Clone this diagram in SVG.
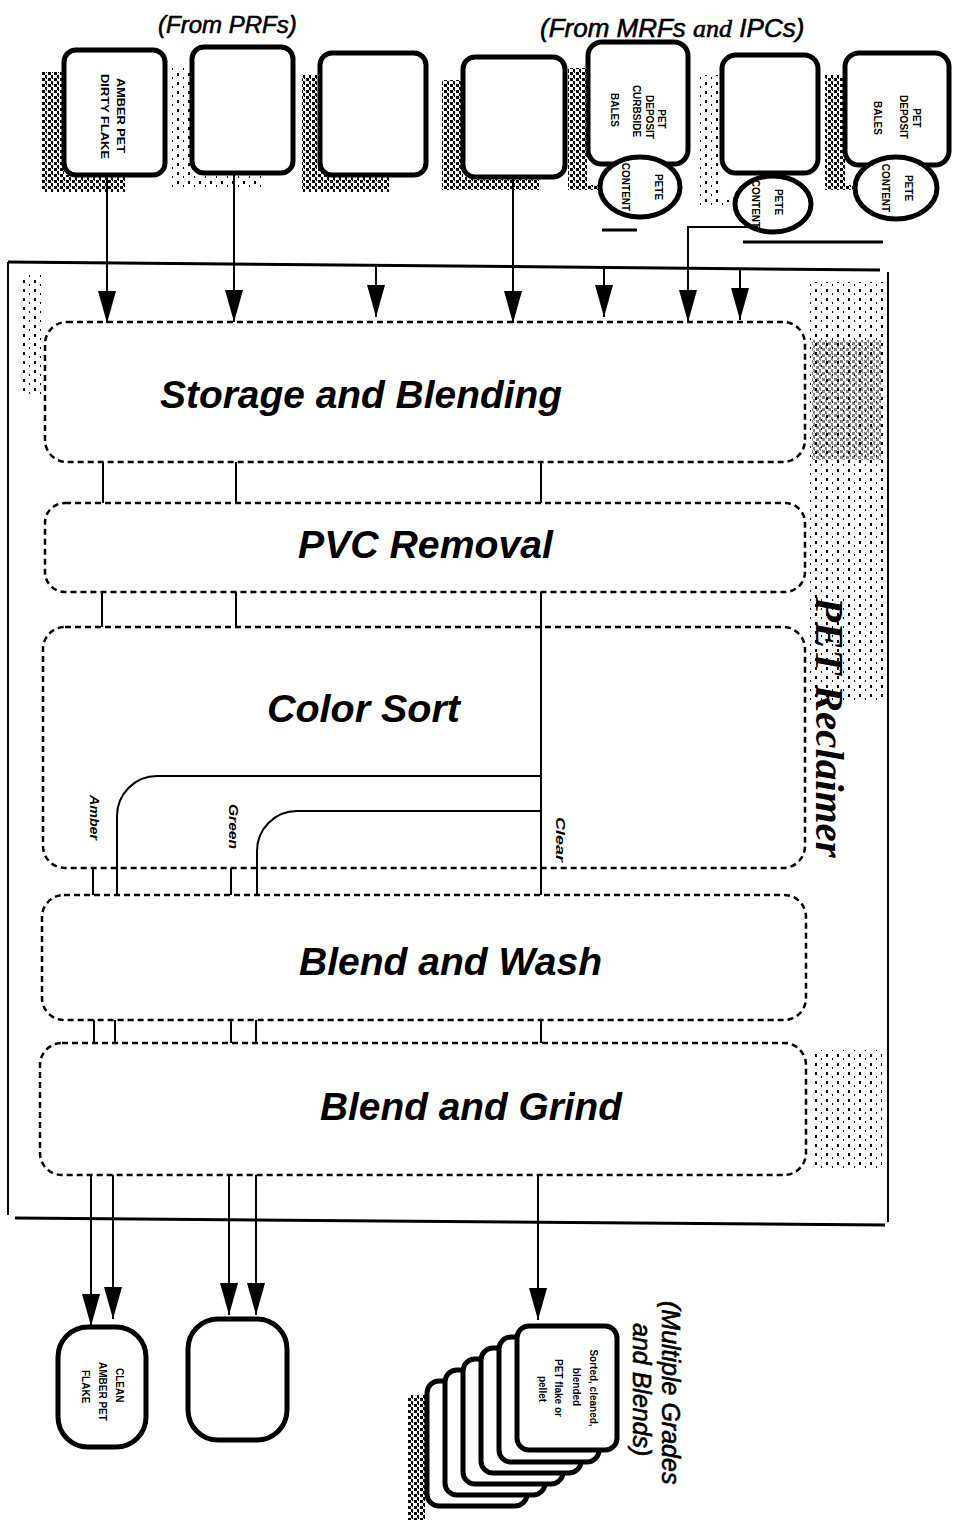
<svg xmlns="http://www.w3.org/2000/svg" width="954" height="1531" viewBox="0 0 954 1531">
<style>
.lbl{font-family:"Liberation Sans",Arial,sans-serif;font-weight:bold;font-style:italic;font-size:39px;fill:#000}
.top{font-family:"Liberation Sans",Arial,sans-serif;font-style:italic;fill:#000;stroke:#000;stroke-width:0.6}
.sm{font-family:"Liberation Sans",Arial,sans-serif;font-weight:bold;font-size:10px;fill:#000}
.col{font-family:"Liberation Sans",Arial,sans-serif;font-weight:bold;font-style:italic;font-size:13px;fill:#000}
.bin{fill:#fff;stroke:#000;stroke-width:5}
.proc{fill:none;stroke:#000;stroke-width:2.5;stroke-dasharray:6 4}
.ln{fill:none;stroke:#000;stroke-width:2}
.frame{fill:none;stroke:#000;stroke-width:3}
.shadow{fill:url(#sp2)}
.noise{fill:url(#sp)}
</style>
<defs>
<pattern id="sp" width="11" height="9" patternUnits="userSpaceOnUse">
<rect x="1" y="1" width="2" height="3" fill="#000"/>
<rect x="7" y="5" width="1" height="2" fill="#000"/>
</pattern>
<pattern id="sp2" width="6" height="6" patternUnits="userSpaceOnUse">
<rect x="0" y="0" width="3" height="3" fill="#000"/>
<rect x="3" y="3" width="2" height="3" fill="#000"/>
<rect x="4" y="0" width="1" height="1" fill="#000"/>
</pattern>
<marker id="ah" viewBox="0 0 32 18" refX="32" refY="9" markerWidth="32" markerHeight="18" markerUnits="userSpaceOnUse" orient="auto">
<path d="M0,0 L32,9 L0,18 z" fill="#000"/>
</marker>
</defs>

<rect width="954" height="1531" fill="#fff"/>

<!-- texture / shadows -->
<g id="texture">
<path class="shadow" d="M42,72 H64 V175 H125 V192 H42 Z"/>
<path class="noise" d="M170,68 H192 V173 H265 V190 H170 Z"/>
<path class="shadow" d="M302,75 H322 V175 H390 V192 H302 Z"/>
<path class="shadow" d="M442,80 H463 V177 H540 V190 H442 Z"/>
<path class="shadow" d="M568,68 H588 V185 H600 V190 H568 Z"/>
<path class="noise" d="M700,75 H722 V200 H735 V205 H700 Z"/>
<path class="shadow" d="M825,75 H845 V185 H855 V190 H825 Z"/>
<rect class="noise" x="808" y="282" width="76" height="420"/>
<rect class="shadow" x="812" y="340" width="70" height="120" opacity="0.5"/>
<rect class="noise" x="812" y="1050" width="70" height="120"/>
<rect class="noise" x="20" y="275" width="24" height="120"/>
<rect class="shadow" x="408" y="1395" width="18" height="125"/>
</g>

<!-- top labels -->
<text class="top" x="158" y="33" font-size="24">(From PRFs)</text>
<text class="top" x="540" y="37" font-size="26">(From MRFs <tspan font-family="'Liberation Serif','Times New Roman',serif">and</tspan> IPCs)</text>

<!-- source bins -->
<g id="bin1">
<rect class="bin" x="64" y="50" width="101" height="125" rx="12"/>
<text class="sm" transform="translate(117,78) rotate(90)" textLength="75" lengthAdjust="spacingAndGlyphs">AMBER PET</text>
<text class="sm" transform="translate(101,74) rotate(90)" textLength="85" lengthAdjust="spacingAndGlyphs">DIRTY FLAKE</text>
</g>
<g id="bin2"><rect class="bin" x="192" y="47" width="101" height="126" rx="12"/></g>
<g id="bin3"><rect class="bin" x="320" y="53" width="106" height="122" rx="12"/></g>
<g id="bin4"><rect class="bin" x="463" y="57" width="102" height="120" rx="12"/></g>
<g id="bin5">
<rect class="bin" x="588" y="42" width="100" height="122" rx="14"/>
<ellipse class="bin" cx="640" cy="187" rx="40" ry="30"/>
<text class="sm" text-anchor="middle" transform="translate(658,119) rotate(90)">PET</text>
<text class="sm" text-anchor="middle" transform="translate(646,117) rotate(90)">DEPOSIT</text>
<text class="sm" text-anchor="middle" transform="translate(633,111) rotate(90)">CURBSIDE</text>
<text class="sm" text-anchor="middle" transform="translate(611,110) rotate(90)" font-size="13">BALES</text>
<text class="sm" text-anchor="middle" transform="translate(655,187) rotate(90)">PETE</text>
<text class="sm" text-anchor="middle" transform="translate(622,187) rotate(90)" font-size="8">CONTENT</text>
</g>
<g id="bin6">
<rect class="bin" x="722" y="55" width="96" height="118" rx="14"/>
<ellipse class="bin" cx="773" cy="204" rx="38" ry="28"/>
<text class="sm" text-anchor="middle" transform="translate(775,202) rotate(90)">PETE</text>
<text class="sm" text-anchor="middle" transform="translate(752,204) rotate(90)" font-size="8">CONTENT</text>
</g>
<g id="bin7">
<rect class="bin" x="845" y="53" width="104" height="112" rx="14"/>
<ellipse class="bin" cx="896" cy="188" rx="41" ry="31"/>
<text class="sm" text-anchor="middle" transform="translate(913,118) rotate(90)">PET</text>
<text class="sm" text-anchor="middle" transform="translate(900,117) rotate(90)">DEPOSIT</text>
<text class="sm" text-anchor="middle" transform="translate(874,118) rotate(90)" font-size="12">BALES</text>
<text class="sm" text-anchor="middle" transform="translate(905,188) rotate(90)">PETE</text>
<text class="sm" text-anchor="middle" transform="translate(882,188) rotate(90)" font-size="8">CONTENT</text>
</g>

<!-- reclaimer frame -->
<g id="reclaimer">
<polyline class="frame" points="8,262 880,270"/>
<line class="ln" x1="8" y1="262" x2="8" y2="1215"/>
<line class="ln" x1="888" y1="272" x2="888" y2="1222"/>
<polyline class="frame" points="15,1218 885,1225" stroke-width="4"/>
<text transform="translate(816,597) rotate(90)" font-family="'Liberation Serif','Times New Roman',serif" font-weight="bold" font-style="italic" font-size="41">PET Reclaimer</text>
</g>

<!-- process stages -->
<g id="storage"><rect class="proc" x="45" y="322" width="760" height="140" rx="22"/>
<text class="lbl" x="160" y="408" textLength="402" lengthAdjust="spacingAndGlyphs">Storage and Blending</text></g>
<g id="pvc"><rect class="proc" x="45" y="503" width="760" height="89" rx="20"/>
<text class="lbl" x="298" y="558" textLength="255" lengthAdjust="spacingAndGlyphs">PVC Removal</text></g>
<g id="colorsort"><rect class="proc" x="43" y="627" width="762" height="241" rx="22"/>
<text class="lbl" x="267" y="722" textLength="193" lengthAdjust="spacingAndGlyphs">Color Sort</text>
<text class="col" transform="translate(90,795) rotate(90)" textLength="45" lengthAdjust="spacingAndGlyphs">Amber</text>
<text class="col" transform="translate(229,804) rotate(90)" textLength="45" lengthAdjust="spacingAndGlyphs">Green</text>
<text class="col" transform="translate(556,817) rotate(90)" textLength="45" lengthAdjust="spacingAndGlyphs">Clear</text></g>
<g id="wash"><rect class="proc" x="42" y="895" width="764" height="125" rx="22"/>
<text class="lbl" x="299" y="975" textLength="303" lengthAdjust="spacingAndGlyphs">Blend and Wash</text></g>
<g id="grind"><rect class="proc" x="40" y="1043" width="766" height="132" rx="22"/>
<text class="lbl" x="320" y="1120" textLength="302" lengthAdjust="spacingAndGlyphs">Blend and Grind</text></g>

<!-- outputs -->
<g id="out-amber">
<rect class="bin" x="58" y="1327" width="88" height="120" rx="30"/>
<text class="sm" transform="translate(116,1368) rotate(90)">CLEAN</text>
<text class="sm" transform="translate(99,1362) rotate(90)">AMBER PET</text>
<text class="sm" transform="translate(82,1370) rotate(90)">FLAKE</text>
</g>
<g id="out-green"><rect class="bin" x="188" y="1319" width="99" height="121" rx="30"/></g>
<g id="out-stack">
<rect class="bin" x="427" y="1381" width="100" height="125" rx="12" stroke-width="4"/>
<rect class="bin" x="445" y="1370" width="100" height="125" rx="12" stroke-width="4"/>
<rect class="bin" x="463" y="1359" width="100" height="125" rx="12" stroke-width="4"/>
<rect class="bin" x="481" y="1348" width="100" height="125" rx="12" stroke-width="4"/>
<rect class="bin" x="499" y="1337" width="100" height="125" rx="12" stroke-width="4"/>
<rect class="bin" x="517" y="1326" width="100" height="124" rx="12" stroke-width="4"/>
<text class="sm" font-size="11" text-anchor="middle" transform="translate(590,1388) rotate(90)">Sorted, cleaned,</text>
<text class="sm" font-size="11" text-anchor="middle" transform="translate(573,1387) rotate(90)">blended</text>
<text class="sm" font-size="11" text-anchor="middle" transform="translate(555,1388) rotate(90)">PET flake or</text>
<text class="sm" font-size="11" text-anchor="middle" transform="translate(539,1389) rotate(90)">pellet</text>
</g>
<text class="top" font-size="25" transform="translate(662,1301) rotate(90)">(Multiple Grades</text>
<text class="top" font-size="25" transform="translate(633,1323) rotate(90)">and Blends)</text>

<!-- connectors -->
<g id="connectors">
<line class="ln" x1="107" y1="175" x2="107" y2="323" marker-end="url(#ah)"/>
<line class="ln" x1="234" y1="173" x2="234" y2="322" marker-end="url(#ah)"/>
<line class="ln" x1="376" y1="264" x2="376" y2="317" marker-end="url(#ah)"/>
<line class="ln" x1="513" y1="177" x2="513" y2="323" marker-end="url(#ah)"/>
<line class="ln" x1="604" y1="266" x2="604" y2="317" marker-end="url(#ah)"/>
<polyline class="ln" points="758,227 688,227 688,322" marker-end="url(#ah)"/>
<line class="ln" x1="740" y1="268" x2="740" y2="320" marker-end="url(#ah)"/>
<line class="frame" x1="602" y1="230" x2="637" y2="230"/>
<line class="frame" x1="743" y1="242" x2="883" y2="242"/>

<line class="ln" x1="103" y1="462" x2="103" y2="503"/>
<line class="ln" x1="236" y1="462" x2="236" y2="503"/>
<line class="ln" x1="541" y1="462" x2="541" y2="503"/>
<line class="ln" x1="102" y1="592" x2="102" y2="627"/>
<line class="ln" x1="236" y1="592" x2="236" y2="627"/>

<line class="ln" x1="541" y1="592" x2="541" y2="895"/>
<path class="ln" d="M541,776 H157 A40,40 0 0 0 117,816 V895"/>
<path class="ln" d="M541,811 H297 A40,40 0 0 0 257,851 V895"/>
<line class="ln" x1="93" y1="868" x2="93" y2="895"/>
<line class="ln" x1="231" y1="868" x2="231" y2="895"/>

<line class="ln" x1="94" y1="1020" x2="94" y2="1043"/>
<line class="ln" x1="115" y1="1020" x2="115" y2="1043"/>
<line class="ln" x1="231" y1="1020" x2="231" y2="1043"/>
<line class="ln" x1="256" y1="1020" x2="256" y2="1043"/>
<line class="ln" x1="541" y1="1020" x2="541" y2="1043"/>

<line class="ln" x1="91" y1="1175" x2="91" y2="1326" marker-end="url(#ah)"/>
<line class="ln" x1="113" y1="1175" x2="113" y2="1319" marker-end="url(#ah)"/>
<line class="ln" x1="229" y1="1175" x2="229" y2="1315" marker-end="url(#ah)"/>
<line class="ln" x1="256" y1="1175" x2="256" y2="1315" marker-end="url(#ah)"/>
<line class="ln" x1="538" y1="1175" x2="538" y2="1320" marker-end="url(#ah)"/>
</g>
</svg>
